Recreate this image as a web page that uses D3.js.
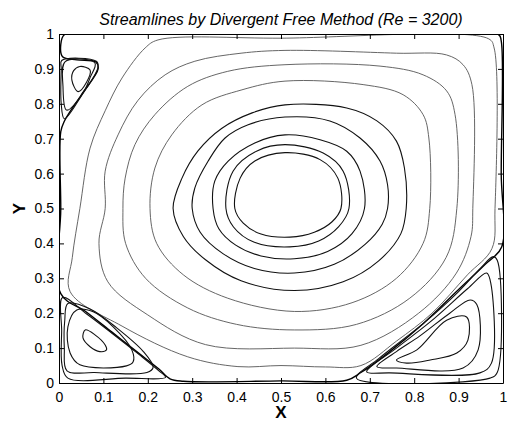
<!DOCTYPE html>
<html>
<head>
<meta charset="utf-8">
<script src="https://cdn.jsdelivr.net/npm/d3@7"></script>
<style>
  body { margin: 0; background: #fff; }
  text { font-family: "Liberation Sans", Arial, sans-serif; }
</style>
</head>
<body>
<svg id="chart" width="514" height="424"></svg>
<script>
// tick labels
const xTicks = [0, 0.1, 0.2, 0.3, 0.4, 0.5, 0.6, 0.7, 0.8, 0.9, 1];
const yTicks = [0, 0.1, 0.2, 0.3, 0.4, 0.5, 0.6, 0.7, 0.8, 0.9, 1];

// primary vortex streamlines, innermost first (x, y)
const vortex1 = [[0.396,0.5],[0.408,0.587],[0.441,0.636],[0.509,0.66],[0.588,0.64],[0.628,0.587],[0.635,0.5],[0.615,0.462],[0.575,0.432],[0.52,0.418],[0.455,0.427],[0.415,0.458]];
const vortex2 = [[0.376,0.5],[0.392,0.607],[0.446,0.665],[0.509,0.683],[0.595,0.659],[0.64,0.607],[0.653,0.5],[0.63,0.448],[0.585,0.407],[0.52,0.39],[0.44,0.403],[0.393,0.447]];
const vortex3 = [[0.347,0.5],[0.351,0.579],[0.381,0.636],[0.441,0.688],[0.509,0.711],[0.588,0.697],[0.648,0.664],[0.678,0.607],[0.688,0.5],[0.66,0.428],[0.605,0.377],[0.53,0.356],[0.455,0.364],[0.398,0.395],[0.36,0.442]];
const vortex4 = [[0.3,0.5],[0.306,0.559],[0.336,0.636],[0.374,0.702],[0.426,0.74],[0.509,0.762],[0.61,0.751],[0.678,0.702],[0.723,0.636],[0.74,0.568],[0.74,0.5],[0.728,0.455],[0.69,0.398],[0.62,0.34],[0.53,0.315],[0.44,0.328],[0.37,0.37],[0.318,0.432]];
const vortex5 = [[0.257,0.5],[0.277,0.587],[0.313,0.665],[0.367,0.73],[0.435,0.774],[0.509,0.797],[0.648,0.788],[0.716,0.751],[0.76,0.693],[0.778,0.616],[0.782,0.5],[0.77,0.428],[0.72,0.35],[0.64,0.29],[0.53,0.265],[0.41,0.293],[0.33,0.353],[0.28,0.42]];
const vortex6 = [[0.205,0.5],[0.216,0.616],[0.254,0.711],[0.322,0.797],[0.412,0.84],[0.509,0.865],[0.685,0.855],[0.775,0.826],[0.82,0.769],[0.833,0.702],[0.835,0.5],[0.82,0.4],[0.76,0.3],[0.66,0.23],[0.53,0.205],[0.38,0.243],[0.28,0.31],[0.22,0.4]];
const vortex7 = [[0.144,0.5],[0.149,0.587],[0.171,0.683],[0.216,0.769],[0.29,0.85],[0.38,0.893],[0.509,0.912],[0.723,0.908],[0.82,0.883],[0.873,0.837],[0.892,0.769],[0.896,0.5],[0.872,0.36],[0.79,0.243],[0.67,0.168],[0.53,0.152],[0.4,0.168],[0.29,0.215],[0.195,0.3],[0.15,0.4]];
const vortex8 = [[0.104,0.5],[0.104,0.607],[0.133,0.711],[0.178,0.81],[0.239,0.883],[0.306,0.922],[0.41,0.945],[0.509,0.953],[0.76,0.945],[0.873,0.94],[0.91,0.912],[0.93,0.855],[0.932,0.5],[0.928,0.42],[0.895,0.315],[0.81,0.2],[0.68,0.108],[0.53,0.1],[0.33,0.11],[0.2,0.195],[0.11,0.29],[0.09,0.4]];
const vortex9 = [[0.047,0.5],[0.07,0.673],[0.104,0.78],[0.142,0.874],[0.194,0.96],[0.223,0.983],[0.5,0.988],[0.968,0.986],[0.98,0.96],[0.982,0.5],[0.975,0.385],[0.92,0.31],[0.84,0.2],[0.76,0.12],[0.68,0.05],[0.6,0.046],[0.5,0.05],[0.403,0.047],[0.29,0.075],[0.142,0.163],[0.025,0.262],[0.03,0.36]];
// wall-hugging streamline around the corner eddies
const wallLoop = [[0.05,0.999],[0.5,0.999],[0.99,0.998],[0.996,0.98],[0.996,0.6],[0.997,0.39],[0.96,0.34],[0.9,0.268],[0.82,0.17],[0.74,0.085],[0.68,0.03],[0.648,0.008],[0.5,0.006],[0.28,0.005],[0.25,0.012],[0.225,0.04],[0.18,0.085],[0.12,0.145],[0.06,0.205],[0.004,0.256],[0.004,0.5],[0.004,0.72],[0.012,0.75],[0.05,0.825],[0.088,0.9],[0.083,0.92],[0.04,0.926],[0.008,0.935],[0.004,0.97],[0.012,0.998]];

// top-left eddy
const tlEddy1 = [[0.033,0.895],[0.047,0.907],[0.07,0.897],[0.062,0.862],[0.043,0.835],[0.029,0.868]];
const tlEddy2 = [[0.014,0.921],[0.081,0.917],[0.07,0.875],[0.054,0.831],[0.017,0.782],[0.009,0.849]];
const tlEddy3 = [[0.006,0.924],[0.084,0.922],[0.088,0.905],[0.05,0.822],[0.012,0.757],[0.005,0.8],[0.005,0.9]];

// bottom-left eddy
const blEddy1 = [[0.059,0.152],[0.081,0.138],[0.104,0.109],[0.107,0.095],[0.092,0.09],[0.07,0.104],[0.054,0.129]];
const blEddy2 = [[0.04,0.209],[0.077,0.204],[0.122,0.161],[0.164,0.095],[0.167,0.061],[0.152,0.049],[0.047,0.052],[0.025,0.086],[0.02,0.161]];
const blEddy3 = [[0.02,0.228],[0.07,0.212],[0.13,0.158],[0.19,0.09],[0.212,0.045],[0.198,0.03],[0.08,0.03],[0.018,0.035],[0.012,0.1],[0.013,0.18]];
const blEddy4 = [[0.008,0.245],[0.06,0.2],[0.12,0.142],[0.18,0.082],[0.225,0.035],[0.24,0.016],[0.15,0.014],[0.02,0.014],[0.007,0.05],[0.006,0.15]];

// bottom-right eddy
const brEddy1 = [[0.873,0.18],[0.918,0.189],[0.921,0.123],[0.896,0.086],[0.836,0.066],[0.783,0.057],[0.76,0.066],[0.806,0.095]];
const brEddy2 = [[0.926,0.238],[0.941,0.225],[0.944,0.095],[0.91,0.043],[0.76,0.043],[0.716,0.047],[0.76,0.09],[0.813,0.135],[0.88,0.2]];
const brEddy3 = [[0.963,0.315],[0.971,0.295],[0.974,0.057],[0.948,0.029],[0.745,0.029],[0.693,0.032],[0.76,0.1],[0.836,0.175],[0.92,0.27]];
const brEddy4 = [[0.978,0.362],[0.987,0.352],[0.987,0.03],[0.971,0.014],[0.67,0.014],[0.72,0.07],[0.82,0.17],[0.9,0.262],[0.95,0.33]];

const innerLoops = [vortex1, vortex2, vortex3, vortex4, vortex5];
const outerLoops = [vortex6, vortex7, vortex8, vortex9];
const eddyLoops = [tlEddy1, tlEddy2, tlEddy3, blEddy1, blEddy2, blEddy3, blEddy4, brEddy1, brEddy2, brEddy3, brEddy4];

const margin = {top: 34, right: 11, bottom: 41, left: 59};
const svg = d3.select("#chart");
const width = +svg.attr("width") - margin.left - margin.right,
    height = +svg.attr("height") - margin.top - margin.bottom;

const x = d3.scaleLinear().domain([0, 1]).range([0, width]);
const y = d3.scaleLinear().domain([0, 1]).range([height, 0]);

const g = svg.append("g")
    .attr("transform", "translate(" + margin.left + "," + margin.top + ")");

g.append("defs").append("clipPath").attr("id", "clip")
    .append("rect").attr("width", width).attr("height", height);

const line = d3.line()
    .x(d => x(d[0]))
    .y(d => y(d[1]))
    .curve(d3.curveCatmullRomClosed.alpha(0.5));

const plot = g.append("g").attr("clip-path", "url(#clip)");

plot.selectAll(".outer").data(outerLoops).enter().append("path")
    .attr("d", line).attr("fill", "none")
    .attr("stroke", "#555").attr("stroke-width", 0.9);

plot.selectAll(".inner").data(innerLoops).enter().append("path")
    .attr("d", line).attr("fill", "none")
    .attr("stroke", "#111").attr("stroke-width", 1.1);

plot.append("path").datum(wallLoop)
    .attr("d", line).attr("fill", "none")
    .attr("stroke", "#000").attr("stroke-width", 1.4);

plot.selectAll(".eddy").data(eddyLoops).enter().append("path")
    .attr("d", line).attr("fill", "none")
    .attr("stroke", "#111").attr("stroke-width", 1.1);

// axes, ticks pointing inward on all four sides
const fmt = d => d === 0 || d === 1 ? String(d) : d3.format(".1f")(d);

g.append("g").attr("transform", "translate(0," + height + ")")
    .call(d3.axisBottom(x).tickValues(xTicks).tickFormat(fmt).tickSizeInner(-5).tickSizeOuter(0).tickPadding(9));
g.append("g")
    .call(d3.axisLeft(y).tickValues(yTicks).tickFormat(fmt).tickSizeInner(-5).tickSizeOuter(0).tickPadding(5));
g.append("g")
    .call(d3.axisTop(x).tickValues(xTicks).tickFormat("").tickSizeInner(-5).tickSizeOuter(0));
g.append("g").attr("transform", "translate(" + width + ",0)")
    .call(d3.axisRight(y).tickValues(yTicks).tickFormat("").tickSizeInner(-5).tickSizeOuter(0));

g.selectAll(".domain").attr("stroke", "#000");
g.selectAll(".tick line").attr("stroke", "#000");
g.selectAll(".tick text").attr("font-size", 14).attr("fill", "#000")
    .attr("font-family", "Liberation Sans, Arial, sans-serif");

svg.append("text")
    .attr("x", margin.left + width / 2).attr("y", 25)
    .attr("text-anchor", "middle").attr("font-size", 16).attr("font-style", "italic")
    .text("Streamlines by Divergent Free Method (Re = 3200)");

svg.append("text")
    .attr("x", margin.left + width / 2).attr("y", 418)
    .attr("text-anchor", "middle").attr("font-size", 17).attr("font-weight", "bold")
    .text("X");

svg.append("text")
    .attr("transform", "translate(25," + (margin.top + height / 2) + ") rotate(-90)")
    .attr("text-anchor", "middle").attr("font-size", 17).attr("font-weight", "bold")
    .text("Y");
</script>
</body>
</html>
